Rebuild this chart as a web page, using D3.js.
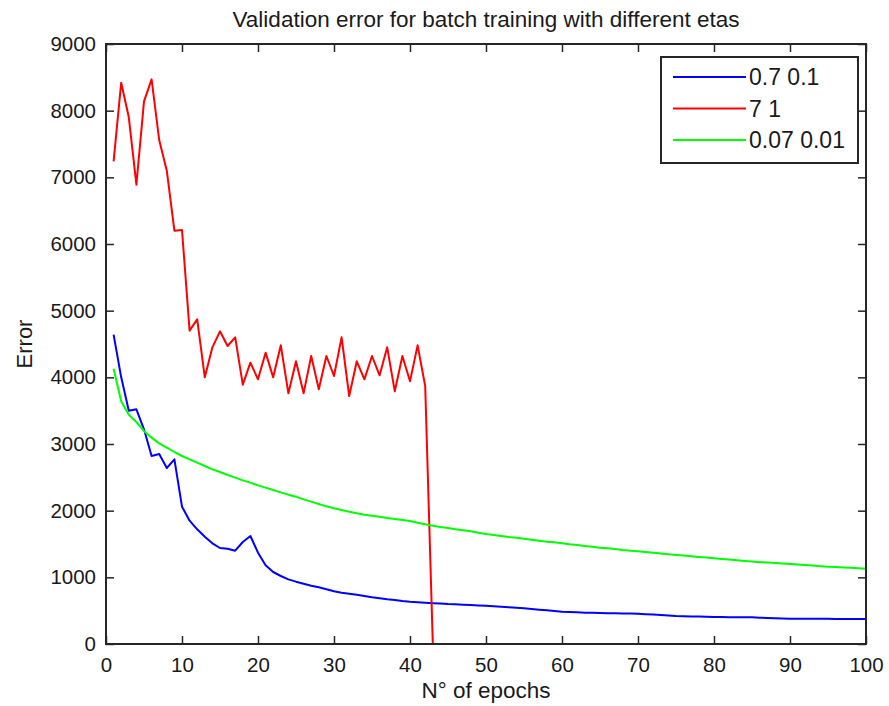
<!DOCTYPE html>
<html>
<head>
<meta charset="utf-8">
<script src="https://cdn.jsdelivr.net/npm/d3@7.9.0/dist/d3.min.js"></script>
<style>
  body { margin: 0; background: #fff; }
  svg { display: block; font-family: "Liberation Sans", Arial, sans-serif; }
</style>
</head>
<body>
<div id="chart"></div>
<script>
// epochs 1..100
const epochs = d3.range(1, 101);

// eta 0.7 / 0.1
const blueErr = [
  4640, 4000, 3500, 3520, 3220, 2820, 2850, 2640, 2770, 2060,
  1850, 1720, 1610, 1510, 1440, 1430, 1400, 1530, 1620, 1370,
  1180, 1080, 1020, 970, 935, 905, 875, 850, 820, 790,
  770, 755, 740, 720, 700, 685, 670, 660, 645, 635,
  628, 620, 612, 606, 600, 597, 590, 584, 578, 574,
  566, 558, 550, 542, 535, 525, 515, 505, 495, 485,
  480, 475, 470, 467, 464, 462, 460, 458, 456, 454,
  448, 442, 436, 428, 420, 417, 414, 411, 408, 405,
  404, 403, 402, 401, 400, 395, 390, 386, 382, 380,
  379, 378, 378, 377, 377, 376, 376, 375, 375, 375
];

// eta 7 / 1  (diverges after epoch 43)
const redErr = [
  7240, 8420, 7900, 6890, 8140, 8470, 7560, 7100, 6200, 6210,
  4700, 4870, 4000, 4450, 4690, 4470, 4600, 3890, 4220, 3970,
  4370, 4000, 4480, 3760, 4240, 3760, 4320, 3820, 4320, 4020,
  4600, 3720, 4240, 3970, 4320, 4030, 4450, 3790, 4320, 3940,
  4480, 3870, 0
];

// eta 0.07 / 0.01
const greenErr = [
  4130, 3640, 3440, 3330, 3195, 3095, 3010, 2945, 2880, 2820,
  2770, 2720, 2670, 2620, 2580, 2535, 2495, 2455, 2420, 2380,
  2345, 2310, 2275, 2240, 2210, 2170, 2135, 2100, 2065, 2035,
  2010, 1985, 1960, 1940, 1925, 1910, 1890, 1875, 1860, 1845,
  1820, 1795, 1775, 1755, 1740, 1720, 1705, 1690, 1670, 1650,
  1635, 1620, 1605, 1595, 1580, 1565, 1550, 1535, 1525, 1510,
  1495, 1485, 1470, 1460, 1445, 1435, 1425, 1410, 1400, 1390,
  1380, 1370, 1358, 1348, 1336, 1326, 1316, 1306, 1296, 1286,
  1276, 1266, 1256, 1246, 1236, 1228, 1222, 1214, 1208, 1200,
  1192, 1184, 1176, 1168, 1160, 1154, 1148, 1142, 1136, 1130
];

const seriesNames = ['0.7 0.1', '7 1', '0.07 0.01'];
const seriesColors = ['#0000ff', '#ff0000', '#00ff00'];
const xTicks = d3.range(0, 101, 10);
const yTicks = d3.range(0, 9001, 1000);

const width = 889;
const height = 706;
const margin = { top: 44, right: 23, bottom: 62, left: 106 };

const svg = d3.select('#chart')
  .append('svg')
  .attr('width', width)
  .attr('height', height);

const xScale = d3.scaleLinear().domain([0, 100]).range([margin.left, width - margin.right]);
const yScale = d3.scaleLinear().domain([0, 9000]).range([height - margin.bottom, margin.top]);

// clip so the red drop stays inside the box
svg.append('clipPath').attr('id', 'plot-clip')
  .append('rect')
  .attr('x', margin.left)
  .attr('y', margin.top)
  .attr('width', xScale(100) - margin.left)
  .attr('height', yScale(0) - margin.top);

const line = d3.line()
  .x((d) => xScale(d[0]))
  .y((d) => yScale(d[1]));

const allSeries = [
  blueErr.map((v, i) => [epochs[i], v]),
  redErr.map((v, i) => [epochs[i], v]),
  greenErr.map((v, i) => [epochs[i], v])
];

const lines = svg.append('g').attr('clip-path', 'url(#plot-clip)');
lines.selectAll('path')
  .data(allSeries)
  .join('path')
  .attr('d', line)
  .attr('fill', 'none')
  .attr('stroke', (d, i) => seriesColors[i])
  .attr('stroke-width', 2)
  .attr('stroke-linejoin', 'round');

// axes, ticks point inward on all four sides
const tick = 8;
const axisColor = '#262626';

const xAxis = svg.append('g')
  .attr('transform', `translate(0, ${yScale(0)})`)
  .call(d3.axisBottom(xScale).tickValues(xTicks).tickSizeInner(-tick).tickSizeOuter(0).tickPadding(13));

const xAxisTop = svg.append('g')
  .attr('transform', `translate(0, ${yScale(9000)})`)
  .call(d3.axisTop(xScale).tickValues(xTicks).tickSizeInner(-tick).tickSizeOuter(0).tickFormat(''));

const yAxis = svg.append('g')
  .attr('transform', `translate(${xScale(0)}, 0)`)
  .call(d3.axisLeft(yScale).tickValues(yTicks).tickSizeInner(-tick).tickSizeOuter(0).tickPadding(10).tickFormat(d3.format('d')));

const yAxisRight = svg.append('g')
  .attr('transform', `translate(${xScale(100)}, 0)`)
  .call(d3.axisRight(yScale).tickValues(yTicks).tickSizeInner(-tick).tickSizeOuter(0).tickFormat(''));

[xAxis, xAxisTop, yAxis, yAxisRight].forEach((g) => {
  g.select('.domain').remove();
  g.selectAll('line').attr('stroke', axisColor).attr('stroke-width', 1.5);
  g.selectAll('text')
    .attr('fill', '#1a1a1a')
    .style('font-size', '20.5px')
    .style('font-family', '"Liberation Sans", Arial, sans-serif');
});

// box
svg.append('rect')
  .attr('x', xScale(0))
  .attr('y', yScale(9000))
  .attr('width', xScale(100) - xScale(0))
  .attr('height', yScale(0) - yScale(9000))
  .attr('fill', 'none')
  .attr('stroke', axisColor)
  .attr('stroke-width', 2);

// title and labels
svg.append('text')
  .attr('x', (xScale(0) + xScale(100)) / 2)
  .attr('y', 27)
  .attr('text-anchor', 'middle')
  .style('font-size', '22.5px')
  .attr('fill', '#1a1a1a')
  .text('Validation error for batch training with different etas');

svg.append('text')
  .attr('x', (xScale(0) + xScale(100)) / 2)
  .attr('y', 698)
  .attr('text-anchor', 'middle')
  .style('font-size', '22.5px')
  .attr('fill', '#1a1a1a')
  .text('N° of epochs');

svg.append('text')
  .attr('transform', `translate(32, ${(yScale(0) + yScale(9000)) / 2}) rotate(-90)`)
  .attr('text-anchor', 'middle')
  .style('font-size', '22px')
  .attr('fill', '#1a1a1a')
  .text('Error');

// legend
const legend = svg.append('g').attr('transform', 'translate(661, 57)');
legend.append('rect')
  .attr('width', 197)
  .attr('height', 106)
  .attr('fill', '#fff')
  .attr('stroke', axisColor)
  .attr('stroke-width', 2);

const items = legend.selectAll('g.item')
  .data(seriesNames)
  .join('g')
  .attr('class', 'item')
  .attr('transform', (d, i) => `translate(0, ${20 + i * 31.5})`);

items.append('line')
  .attr('x1', 12)
  .attr('x2', 85)
  .attr('stroke', (d, i) => seriesColors[i])
  .attr('stroke-width', 2);

items.append('text')
  .attr('x', 88)
  .attr('dy', '0.35em')
  .style('font-size', '23px')
  .attr('fill', '#1a1a1a')
  .text((d) => d);
</script>
</body>
</html>
